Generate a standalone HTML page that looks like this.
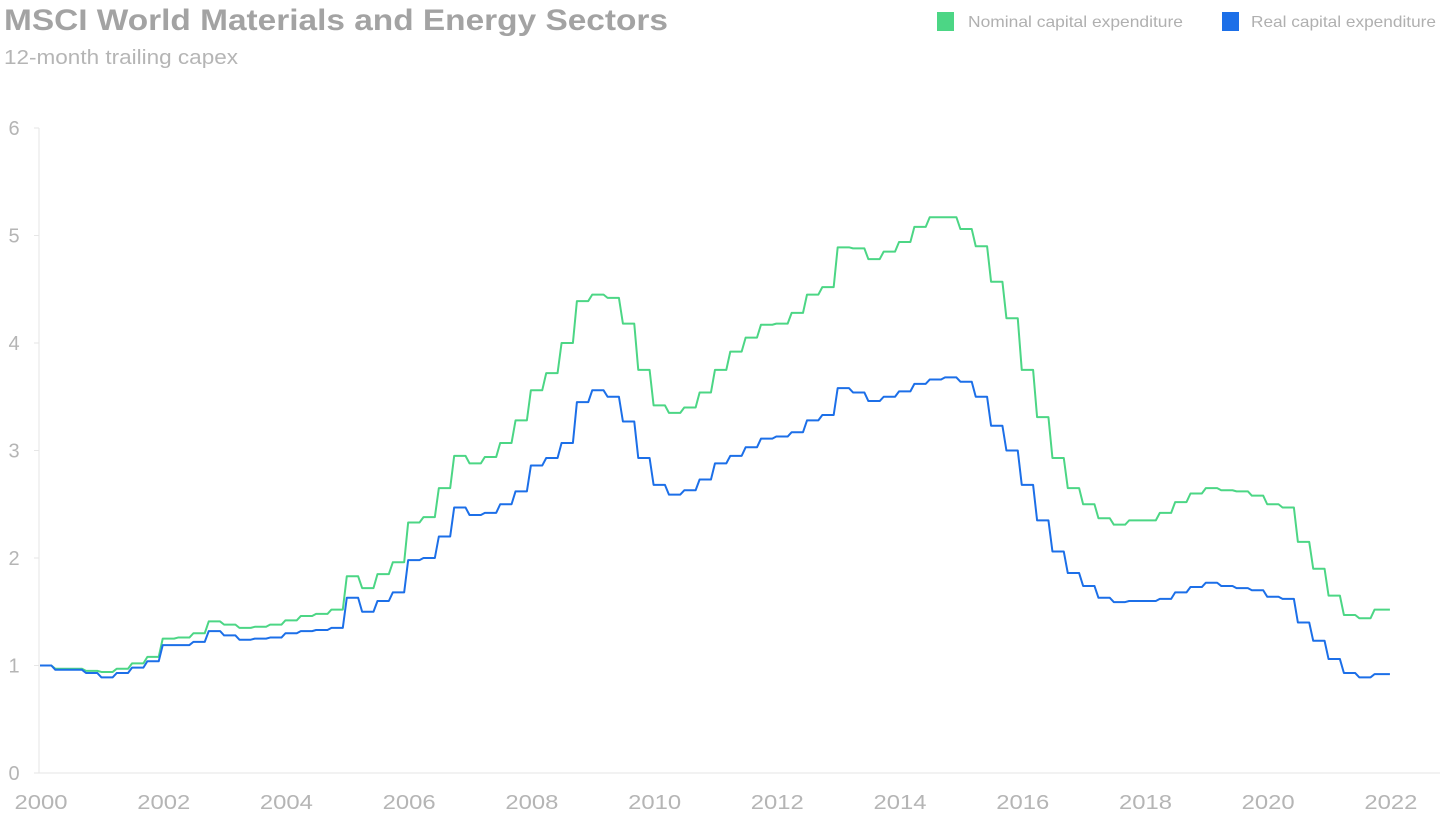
<!DOCTYPE html>
<html><head><meta charset="utf-8"><style>
body{margin:0;width:1448px;height:814px;background:#fff;overflow:hidden;font-family:"Liberation Sans",sans-serif;}
svg{position:absolute;left:0;top:0}
</style></head><body>
<svg width="1448" height="814">
<text x="4" y="30" font-size="30" font-weight="bold" fill="#a3a3a3" textLength="664" lengthAdjust="spacingAndGlyphs">MSCI World Materials and Energy Sectors</text>
<text x="4" y="64" font-size="20" fill="#b5b5b5" textLength="234" lengthAdjust="spacingAndGlyphs">12-month trailing capex</text>
<g><rect x="937" y="12" width="17" height="19" fill="#4cd685"/><text x="968" y="27" font-size="16" fill="#b0b0b0" textLength="215" lengthAdjust="spacingAndGlyphs">Nominal capital expenditure</text></g>
<g><rect x="1222" y="12" width="17" height="19" fill="#1c6fe8"/><text x="1251" y="27" font-size="16" fill="#b0b0b0" textLength="185" lengthAdjust="spacingAndGlyphs">Real capital expenditure</text></g>
<g id="axes"></g>
<g id="plot"></g>
</svg>
<script>
const yTicks=[0,1,2,3,4,5,6];
const xTicks=[2000,2002,2004,2006,2008,2010,2012,2014,2016,2018,2020,2022];
const startYear=2000;
const nominal=[1.0,0.97,0.97,0.95,0.94,0.97,1.02,1.08,1.25,1.26,1.30,1.41,1.38,1.35,1.36,1.38,1.42,1.46,1.48,1.52,1.83,1.72,1.85,1.96,2.33,2.38,2.65,2.95,2.88,2.94,3.07,3.28,3.56,3.72,4.0,4.39,4.45,4.42,4.18,3.75,3.42,3.35,3.40,3.54,3.75,3.92,4.05,4.17,4.18,4.28,4.45,4.52,4.89,4.88,4.78,4.85,4.94,5.08,5.17,5.17,5.06,4.90,4.57,4.23,3.75,3.31,2.93,2.65,2.50,2.37,2.31,2.35,2.35,2.42,2.52,2.60,2.65,2.63,2.62,2.58,2.50,2.47,2.15,1.90,1.65,1.47,1.44,1.52,1.52];
const real=[1.0,0.96,0.96,0.93,0.89,0.93,0.98,1.04,1.19,1.19,1.22,1.32,1.28,1.24,1.25,1.26,1.30,1.32,1.33,1.35,1.63,1.50,1.60,1.68,1.98,2.0,2.20,2.47,2.40,2.42,2.50,2.62,2.86,2.93,3.07,3.45,3.56,3.50,3.27,2.93,2.68,2.59,2.63,2.73,2.88,2.95,3.03,3.11,3.13,3.17,3.28,3.33,3.58,3.54,3.46,3.50,3.55,3.62,3.66,3.68,3.64,3.50,3.23,3.0,2.68,2.35,2.06,1.86,1.74,1.63,1.59,1.60,1.60,1.62,1.68,1.73,1.77,1.74,1.72,1.70,1.64,1.62,1.40,1.23,1.06,0.93,0.89,0.92,0.92];
const NS="http://www.w3.org/2000/svg";
const x0=40,xPerYear=61.36,y0=773,yPerUnit=107.5;
const xs=y=>x0+(y-2000)*xPerYear;
const ys=v=>y0-v*yPerUnit;
const axes=document.getElementById('axes'),plot=document.getElementById('plot');
function mk(tag,attrs,parent){const e=document.createElementNS(NS,tag);for(const k in attrs)e.setAttribute(k,attrs[k]);parent.appendChild(e);return e;}
const yl=mk('line',{x1:39,y1:ys(6),x2:39,y2:y0,stroke:'#e6e6e6','stroke-width':1},axes);


const xl=mk('line',{x1:39,y1:y0,x2:1440,y2:y0,stroke:'#e6e6e6','stroke-width':1},axes);


yTicks.forEach(t=>{
 const tk=mk('line',{x1:34,y1:ys(t),x2:39,y2:ys(t),stroke:'#e6e6e6'},axes);
 
 
 const tx=mk('text',{x:14,y:ys(t)+7,'font-size':20,fill:'#b5b5b5','text-anchor':'middle'},axes);
 tx.textContent=t;
 
 
});
xTicks.forEach(t=>{
 const tx=mk('text',{x:xs(t)+1,y:809,'font-size':20,fill:'#b5b5b5','text-anchor':'middle','textLength':53,'lengthAdjust':'spacingAndGlyphs'},axes);
 tx.textContent=t;
 
 
});
function drawSeries(vals,color,name){
 let d='';
 vals.forEach((v,i)=>{
  const yr=startYear+i*0.25;
  const x=xs(yr),y=ys(v);
  if(i===0)d+='M'+x+','+y;
  else{d+=' L'+(x-4)+','+ys(vals[i-1])+' L'+x+','+y;}
  if(i<vals.length-1)d+=' L'+(x+xPerYear/4-4)+','+y;
 });
 const p=mk('path',{d:d,fill:'none',stroke:color,'stroke-width':2,'stroke-linejoin':'round'},plot);
 
 
}
drawSeries(nominal,'#4cd685','nominal-capex-line');
drawSeries(real,'#1c6fe8','real-capex-line');
</script>
</body></html>
